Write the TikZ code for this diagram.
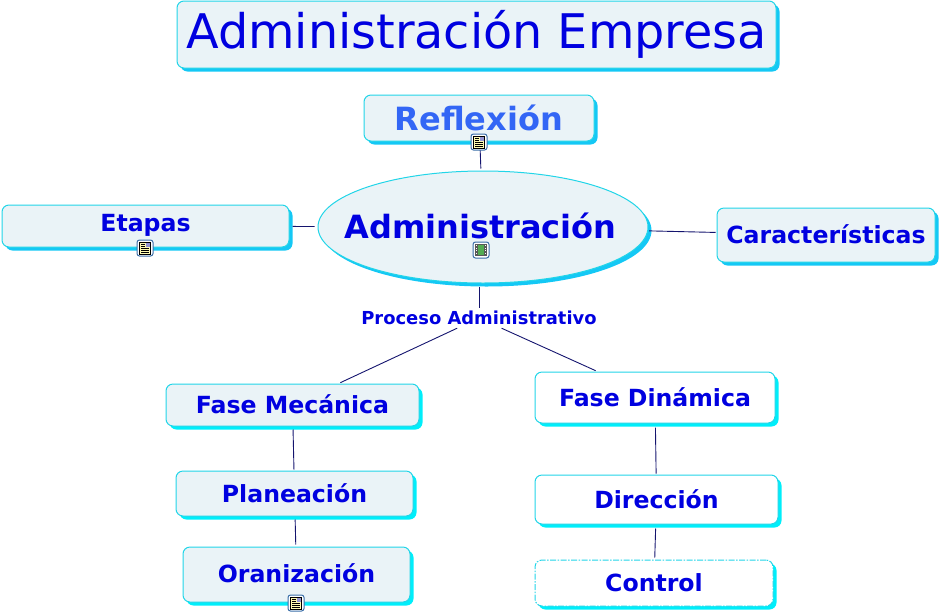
\documentclass[tikz,border=0pt]{standalone}
\usepackage{fontspec}
\setmainfont{DejaVu Sans}
\usetikzlibrary{shadows,shapes.geometric}
\definecolor{fillc}{HTML}{EAF3F7}
\definecolor{edgec}{HTML}{22D5E8}
\definecolor{shadA}{HTML}{14C8F5}
\definecolor{shadB}{HTML}{00EEFA}
\definecolor{txtc}{HTML}{0000E0}
\definecolor{txtr}{HTML}{3366F5}
\definecolor{linec}{HTML}{14146E}
\definecolor{iconb}{HTML}{3A6EA8}
\newcommand{\fs}[1]{\fontsize{#1}{#1}\selectfont}
\tikzset{
  x=1pt,y=-1pt,
  basebox/.style={rectangle,rounded corners=7pt,draw=edgec,line width=1pt,align=center,inner sep=0pt,text=txtc,font=\bfseries\fs{23.6}},
  softbox/.style={basebox,fill=fillc,general shadow={fill=shadA,shadow xshift=3.5pt,shadow yshift=-3.5pt}},
  softboxb/.style={basebox,fill=fillc,general shadow={fill=shadB,shadow xshift=3.5pt,shadow yshift=-3.5pt}},
  whitebox/.style={basebox,fill=white,general shadow={fill=shadB,shadow xshift=3.5pt,shadow yshift=-3.5pt}},
  conn/.style={draw=linec,line width=0.9pt},
  docicon/.pic={
    \draw[iconb,fill=white,line width=1pt,rounded corners=2.5pt] (-8,-8) rectangle (8,8);
    \draw[black,fill=yellow!30,line width=0.6pt] (-5.5,-6) rectangle (5.5,6);
    \fill[gray!60!blue!60] (0.5,-5) rectangle (4.5,-0.8);
    \draw[black,line width=0.7pt] (-4,-3.8)--(-0.5,-3.8) (-4,-1.8)--(-0.5,-1.8) (-4,0.7)--(4,0.7) (-4,2.4)--(4,2.4) (-4,4.1)--(4,4.1);
  },
  filmicon/.pic={
    \draw[iconb,fill=white,line width=1pt,rounded corners=2.5pt] (-8,-8) rectangle (8,8);
    \fill[gray!70!black] (-6,-6) rectangle (6,6);
    \fill[green!35!gray] (-3,-5) rectangle (3,5);
    \foreach \k in {-5,-2.5,0,2.5}{\fill[white] (-5.2,\k) rectangle (-3.8,\k+1.2); \fill[white] (3.8,\k) rectangle (5.2,\k+1.2);}
  }
}
\begin{document}
\begin{tikzpicture}
\useasboundingbox (0,0) rectangle (940,614);
\node[softbox,minimum width=599pt,minimum height=67pt,font=\fs{47.7}] (title) at (476.5,34.5) {Administración Empresa};
\node[softbox,minimum width=230pt,minimum height=46pt,text=txtr,font=\bfseries\fs{32}] (refl) at (479,118) {\raisebox{1pt}{Reflexión}};
\node[softbox,minimum width=287pt,minimum height=42pt] (etapas) at (145.5,226) {\raisebox{6pt}{Etapas}};
\node[softbox,ellipse,minimum width=330pt,minimum height=112pt,font=\bfseries\fs{32}] (admin) at (483,227) {\makebox[0pt]{\hspace{-5pt}\raisebox{2pt}{Administración}}};
\node[softbox,minimum width=218pt,minimum height=54pt] (carac) at (826,235) {\raisebox{1pt}{Características}};
\node[text=txtc,font=\bfseries\fs{17.9},inner sep=0pt,minimum height=20pt,minimum width=236pt] (proc) at (479,318) {Proceso Administrativo};
\node[softboxb,minimum width=253pt,minimum height=42pt] (mec) at (292.5,405) {\raisebox{1pt}{Fase Mecánica}};
\node[whitebox,minimum width=240pt,minimum height=51pt] (din) at (655,397.5) {\raisebox{1pt}{Fase Dinámica}};
\node[softboxb,minimum width=237pt,minimum height=45pt] (plan) at (294.5,493.5) {Planeación};
\node[whitebox,minimum width=243pt,minimum height=49pt] (dir) at (656.5,499.5) {Dirección};
\node[softboxb,minimum width=227pt,minimum height=55pt] (oran) at (296.5,574.5) {\raisebox{2pt}{Oranización}};
\node[whitebox,dash pattern=on 6pt off 1.5pt on 1.5pt off 1.5pt,minimum width=238pt,minimum height=46pt] (ctrl) at (654,583) {Control};
% connectors
\draw[conn,shorten <=8pt,shorten >=2pt] (refl) -- (admin);
\draw[conn,shorten <=3pt,shorten >=3pt] (etapas) -- (admin);
\draw[conn,shorten <=1pt,shorten >=1pt] (admin) -- (carac);
\draw[conn,shorten <=3pt,shorten >=0pt] (proc |- admin.south) -- (proc);
\draw[conn,shorten >=2pt] (proc) -- (mec);
\draw[conn,shorten >=2pt] (proc) -- (din);
\draw[conn,shorten <=3pt,shorten >=1pt] (mec) -- (plan);
\draw[conn,shorten <=3pt,shorten >=2pt] (plan) -- (oran);
\draw[conn,shorten <=4pt,shorten >=1pt] (din) -- (dir);
\draw[conn,shorten <=4pt,shorten >=2pt] (dir) -- (ctrl);
% icons
\pic at (479,142) {docicon};
\pic at (145,248) {docicon};
\pic at (481,250) {filmicon};
\pic at (296,603) {docicon};
\end{tikzpicture}
\end{document}
